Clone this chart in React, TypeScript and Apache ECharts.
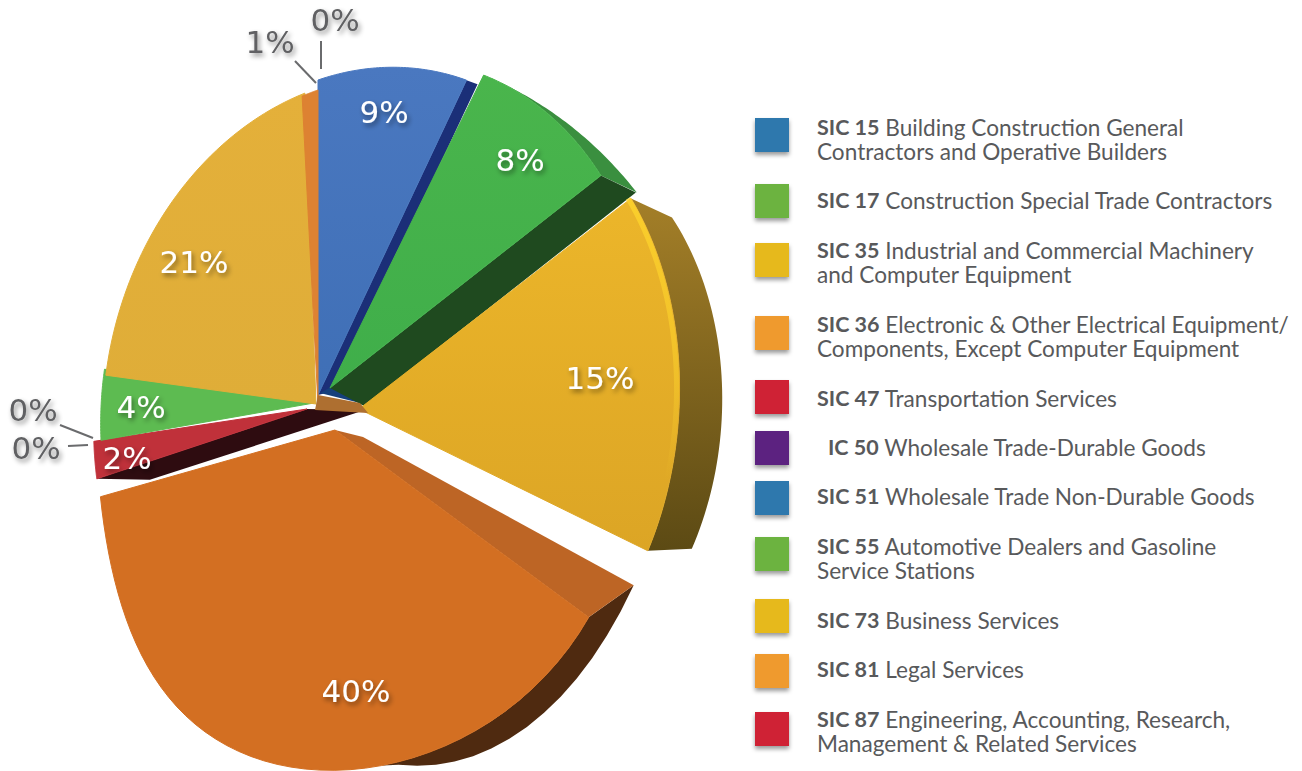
import React, { useEffect, useRef } from "react";
import * as echarts from "echarts";

const codes = ["SIC 15", "SIC 17", "SIC 35", "SIC 36", "SIC 47", "IC 50", "SIC 51", "SIC 55", "SIC 73", "SIC 81", "SIC 87"];
const names = [
  "Building Construction General\nContractors and Operative Builders",
  "Construction Special Trade Contractors",
  "Industrial and Commercial Machinery\nand Computer Equipment",
  "Electronic & Other Electrical Equipment/\nComponents, Except Computer Equipment",
  "Transportation Services",
  "Wholesale Trade-Durable Goods",
  "Wholesale Trade Non-Durable Goods",
  "Automotive Dealers and Gasoline\nService Stations",
  "Business Services",
  "Legal Services",
  "Engineering, Accounting, Research,\nManagement & Related Services",
];
const shares = [9, 8, 15, 40, 2, 0, 0, 4, 21, 1, 0];

// Layout and styling tables (not data)
const LEGEND_COLORS = ["#2f78ad", "#6cb33f", "#e6b91e", "#ef9a2e", "#cf2136", "#5b2380", "#2f78ad", "#6cb33f", "#e6b91e", "#ef9a2e", "#cf2136"];
const LEGEND_Y = [118, 184, 243, 316, 380, 431, 481, 537, 599, 654, 712];
const LEGEND_TEXT_Y = [127, 200, 250, 324, 398, 447, 496, 546, 620, 669, 719];
const LEGEND_TEXT_X = [817, 817, 817, 817, 817, 828, 817, 817, 817, 817, 817];

const APEX = [318, 405];
const A = 256, B = 315, K = -0.2, S = -25;

type Style = {
  fill: any; dx: number; dy: number; s0?: number; s1?: number; b0?: number; b1?: number; bow?: number; shiftX?: number;
  band?: { edge: "start" | "end"; corner: number[]; apex: number[]; color: string };
  side?: { ext: number[]; ext1?: number[]; f0: number; f1: number; color: any; until?: number; bulge?: number[] };
  rim?: any;
  hub?: { pts: number[][]; color: string };
};
const grad = (a: string, b: string) => new echarts.graphic.LinearGradient(0, 0, 0, 1, [{ offset: 0, color: a }, { offset: 1, color: b }]);
const STYLES: Style[] = [
  { fill: grad("#4a78c0", "#3f6fb6"), dx: 0, dy: -10, b1: -0.3,
    band: { edge: "end", corner: [11, 4], apex: [16, -4], color: "#1b2f78" },
    hub: { pts: [[2, -12], [42, -2], [17, -20]], color: "#16407c" } },
  { fill: grad("#4ab54c", "#3fae4a"), dx: 12, dy: -17, b1: -0.1,
    band: { edge: "end", corner: [35, 17], apex: [34, 18], color: "#1f4a1f" },
    side: { ext: [36, 17], f0: 0, f1: 1, color: "#3a8f3f" } },
  { fill: grad("#ecb62a", "#dca525"), dx: 41, dy: 4, b1: 0.1, s1: 1.025, bow: -0.012,
    rim: new echarts.graphic.LinearGradient(0, 0, 0, 1, [{ offset: 0, color: "rgba(255,214,44,0.75)" }, { offset: 0.5, color: "rgba(255,214,44,0.45)" }, { offset: 0.8, color: "rgba(255,214,44,0)" }]),
    side: { ext: [41, 19], ext1: [44, -2], f0: 1, f1: 1, color: grad("#a47f28", "#5c4a14") } },
  { fill: "#d36f22", dx: 17, dy: 25, b0: 2.5, b1: 0.6, s0: 1, s1: 1.11, bow: 0.035, shiftX: -25,
    band: { edge: "start", corner: [45, -32], apex: [28, 7], color: "#bd6525" },
    side: { ext: [45, -32], f0: 1, f1: 0, color: "#4f2a10", until: 0.3, bulge: [10, 24] } },
  { fill: "#c0313a", dx: -11, dy: 4, b1: 0.3,
    band: { edge: "start", corner: [53, 1], apex: [58, 1], color: "#2e0c10" } },
  { fill: "#5b2380", dx: 0, dy: 0 },
  { fill: "#2f78ad", dx: 0, dy: 0 },
  { fill: "#5dbb51", dx: -4, dy: -2, b1: 0.3 },
  { fill: grad("#e4b03a", "#dfad38"), dx: -2, dy: -1, b1: 0.3 },
  { fill: "#dd8232", dx: 0, dy: 0, hub: { pts: [[0, -10], [42, -2], [50, 8], [-3, 5]], color: "#ae6f30" } },
  { fill: "#e0842f", dx: 0, dy: 0 },
];
const LABELS = [[384, 112], [520, 160], [600, 378], [356, 691], [127, 458], [33, 410], [36, 448], [141, 407], [194, 262], [270, 42], [335, 20]];
const LEADERS: (number[] | null)[] = [null, null, null, null, null, [60, 425, 93, 438], [68, 446, 88, 445], null, null, [295, 61, 316, 83], [321, 41, 321, 69]];

const project = (pct: number, st: Style, scale: number) => {
  const a = (pct / 100) * Math.PI * 2;
  const u = Math.sin(a), v = -Math.cos(a), d = 1 + K * u;
  return [
    APEX[0] + st.dx + (scale * A * u) / d,
    APEX[1] + st.dy + (scale * (B * v + S * u)) / d,
  ];
};

const STEPS = 48;
const renderItem = (params: any, api: any) => {
  const i = params.dataIndex;
  const start = api.value(0), end = api.value(1), val = api.value(2);
  const st = STYLES[i];
  const children: any[] = [];
  const center = [APEX[0] + st.dx, APEX[1] + st.dy];
  if (end > start) {
    const p0 = start + (st.b0 || 0), p1 = end + (st.b1 || 0);
    const arc: number[][] = [];
    for (let k = 0; k <= STEPS; k++) {
      const t = k / STEPS;
      const s = (st.s0 ?? 1) + ((st.s1 ?? 1) - (st.s0 ?? 1)) * t + (st.bow || 0) * Math.sin(Math.PI * t);
      const p = project(p0 + (p1 - p0) * t, st, s);
      p[0] += (st.shiftX || 0) * Math.sin(Math.PI * t) ** 2;
      arc.push(p);
    }
    if (st.side) {
      const { ext, ext1, f0, f1, color, until, bulge } = st.side;
      const outer = arc.map((p, k) => {
        const t = k / STEPS;
        const w = Math.min(1, t / (until ?? 1));
        const f = f0 + (f1 - f0) * (bulge ? w * (2 - w) : w);
        const b = bulge ? 4 * w * (1 - w) : 0;
        const ex = ext1 ? ext[0] + (ext1[0] - ext[0]) * t : ext[0];
        const ey = ext1 ? ext[1] + (ext1[1] - ext[1]) * t : ext[1];
        return [p[0] + ex * f + (bulge ? bulge[0] * b : 0), p[1] + ey * f + (bulge ? bulge[1] * b : 0)];
      });
      children.push({ type: "polygon", shape: { points: [...arc, ...outer.reverse()] }, style: { fill: color, stroke: null } });
    }
    if (st.band) {
      const c = st.band.edge === "start" ? arc[0] : arc[STEPS];
      children.push({
        type: "polygon",
        shape: { points: [c, center, [center[0] + st.band.apex[0], center[1] + st.band.apex[1]], [c[0] + st.band.corner[0], c[1] + st.band.corner[1]]] },
        style: { fill: st.band.color, stroke: null },
      });
    }
    children.push({ type: "polygon", shape: { points: [center, ...arc] }, style: { fill: st.fill, stroke: st.fill, lineWidth: 1 } });
    if (st.rim) children.push({ type: "polyline", shape: { points: arc.map((p) => [p[0] - 3, p[1]]) }, style: { stroke: st.rim, lineWidth: 5, fill: "none" } });
    if (st.hub) children.push({ type: "polygon", shape: { points: st.hub.pts.map((q) => [APEX[0] + q[0], APEX[1] + q[1]]) }, style: { fill: st.hub.color, stroke: null } });
  }
  const outside = !!LEADERS[i];
  if (outside) {
    const l = LEADERS[i] as number[];
    children.push({ type: "line", shape: { x1: l[0], y1: l[1], x2: l[2], y2: l[3] }, style: { stroke: "#6a6b6d", lineWidth: 2 } });
  }
  children.push({
    type: "text",
    z2: 10,
    style: {
      text: `${val}%`, x: LABELS[i][0], y: LABELS[i][1], align: "center", verticalAlign: "middle",
      fontFamily: "DejaVu Sans", fontSize: 31, fill: outside ? "#606163" : "#ffffff",
      textShadowColor: "rgba(0,0,0,0.45)", textShadowBlur: 5, textShadowOffsetX: 2, textShadowOffsetY: 3,
    },
  });
  return { type: "group", children };
};

export default function App() {
  const ref = useRef<HTMLDivElement>(null);
  useEffect(() => {
    const chart = echarts.init(ref.current!, undefined, { renderer: "svg" });
    let c = 0;
    const sliceData = shares.map((v) => { const r = [c, c + v, v]; c += v; return r; });
    const legendGraphics: any[] = [];
    codes.forEach((code, i) => {
      legendGraphics.push({
        type: "rect", shape: { x: 755, y: LEGEND_Y[i], width: 34, height: 34 },
        style: { fill: LEGEND_COLORS[i], shadowColor: "rgba(0,0,0,0.4)", shadowBlur: 4, shadowOffsetY: 3 },
      });
      legendGraphics.push({
        type: "text", x: LEGEND_TEXT_X[i], y: LEGEND_TEXT_Y[i] - 12,
        style: {
          text: `{b|${code}} ${names[i]}`, fill: "#58595b", fontFamily: "Lato", fontSize: 22.6,
          lineHeight: 24.5, verticalAlign: "top", align: "left",
          rich: { b: { fontFamily: "Lato", fontWeight: "bold", fontSize: 21.5, fill: "#58595b", lineHeight: 24.5 } },
        },
      });
    });
    chart.setOption({
      animation: false,
      backgroundColor: "#ffffff",
      graphic: legendGraphics,
      series: [{ type: "custom", coordinateSystem: "none", renderItem, data: sliceData, silent: true }],
    });
    return () => chart.dispose();
  }, []);
  return <div ref={ref} style={{ position: "absolute", left: 0, top: 0, width: 1302, height: 771 }} />;
}
